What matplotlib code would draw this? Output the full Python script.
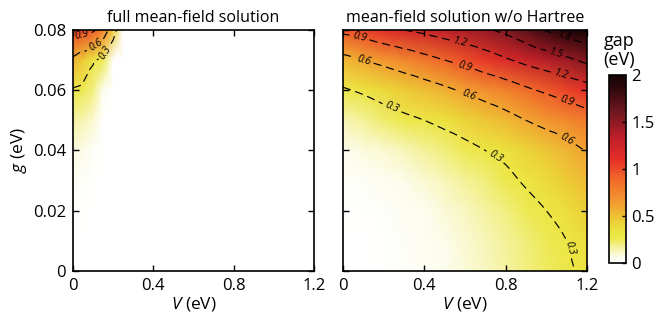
import numpy as np
import matplotlib.pyplot as plt
import matplotlib.tri as mtri
from matplotlib.colors import LinearSegmentedColormap

plt.rcParams['font.family'] = ['Open Sans', 'DejaVu Sans']
plt.rcParams['mathtext.fontset'] = 'custom'
plt.rcParams['mathtext.it'] = 'Open Sans:italic'
plt.rcParams['mathtext.rm'] = 'Open Sans'

# coupling g (rows) and interaction V (columns), gap in eV
g_vals = [0.0, 0.01, 0.02, 0.03, 0.04, 0.05, 0.06, 0.07, 0.08]

V_right = [0.0, 0.1, 0.2, 0.3, 0.4, 0.5, 0.6, 0.7, 0.8, 0.9, 1.0, 1.1, 1.2]
gap_right = [
    [0.00, 0.00, 0.01, 0.02, 0.04, 0.06, 0.09, 0.12, 0.16, 0.20, 0.24, 0.28, 0.33],
    [0.00, 0.005, 0.01, 0.03, 0.05, 0.07, 0.10, 0.13, 0.17, 0.21, 0.25, 0.30, 0.36],
    [0.01, 0.01, 0.02, 0.04, 0.06, 0.09, 0.12, 0.16, 0.20, 0.25, 0.30, 0.36, 0.43],
    [0.02, 0.03, 0.05, 0.07, 0.10, 0.13, 0.17, 0.21, 0.26, 0.32, 0.38, 0.45, 0.52],
    [0.06, 0.08, 0.10, 0.13, 0.17, 0.21, 0.25, 0.30, 0.35, 0.41, 0.47, 0.54, 0.61],
    [0.14, 0.17, 0.22, 0.26, 0.30, 0.35, 0.41, 0.47, 0.53, 0.60, 0.67, 0.73, 0.80],
    [0.28, 0.33, 0.39, 0.45, 0.50, 0.56, 0.63, 0.70, 0.77, 0.86, 0.94, 1.02, 1.10],
    [0.53, 0.60, 0.67, 0.74, 0.82, 0.90, 0.98, 1.07, 1.17, 1.27, 1.36, 1.45, 1.56],
    [0.96, 1.02, 1.11, 1.20, 1.26, 1.33, 1.40, 1.47, 1.56, 1.68, 1.82, 1.93, 2.02],
]

V_left = [0.0, 0.05, 0.1, 0.15, 0.2, 0.25, 1.2]
gap_left = [
    [0.00, 0.00, 0.00, 0.00, 0.00, 0.00, 0.0],
    [0.00, 0.00, 0.00, 0.00, 0.00, 0.00, 0.0],
    [0.01, 0.01, 0.00, 0.00, 0.00, 0.00, 0.0],
    [0.03, 0.03, 0.01, 0.00, 0.00, 0.00, 0.0],
    [0.08, 0.07, 0.03, 0.00, 0.00, 0.00, 0.0],
    [0.16, 0.14, 0.10, 0.00, 0.00, 0.00, 0.0],
    [0.28, 0.25, 0.20, 0.04, 0.00, 0.00, 0.0],
    [0.55, 0.45, 0.32, 0.25, 0.00, 0.00, 0.0],
    [1.02, 1.00, 0.94, 0.76, 0.45, 0.00, 0.0],
]

levels = [0.3, 0.6, 0.9, 1.2, 1.5, 1.8]

cmap = LinearSegmentedColormap.from_list('gap', [
    (0.00, (1.00, 1.00, 1.00)),
    (0.03, (0.99, 0.99, 0.93)),
    (0.08, (0.96, 0.95, 0.62)),
    (0.13, (0.93, 0.91, 0.30)),
    (0.17, (0.92, 0.89, 0.24)),
    (0.24, (0.93, 0.77, 0.21)),
    (0.32, (0.95, 0.61, 0.19)),
    (0.45, (0.94, 0.40, 0.16)),
    (0.55, (0.90, 0.18, 0.16)),
    (0.67, (0.74, 0.12, 0.16)),
    (0.80, (0.45, 0.09, 0.12)),
    (0.93, (0.18, 0.03, 0.05)),
    (1.00, (0.08, 0.01, 0.02)),
])

fig = plt.figure(figsize=(6.58, 3.21), dpi=100)
ax1 = fig.add_axes([0.111, 0.156, 0.366, 0.751])
ax2 = fig.add_axes([0.521, 0.156, 0.371, 0.751])
cax = fig.add_axes([0.926, 0.181, 0.025, 0.586])

panels = [
    (ax1, V_left, gap_left, 'full mean-field solution',
     [(0.045, 0.0778), (0.11, 0.0755), (0.15, 0.073)]),
    (ax2, V_right, gap_right, 'mean-field solution w/o Hartree',
     [(0.08, 0.077), (0.10, 0.0694), (0.25, 0.0555), (0.75, 0.038), (1.14, 0.008),
      (0.57, 0.0744), (0.60, 0.0677), (0.62, 0.0585), (1.08, 0.076), (1.05, 0.0724),
      (1.07, 0.065), (1.10, 0.0565), (1.10, 0.0435)]),
]

for ax, V, gap, title, label_pos in panels:
    VV, GG = np.meshgrid(V, g_vals)
    Z = np.array(gap)
    mesh = ax.pcolormesh(VV, GG, Z, cmap=cmap, vmin=0, vmax=2, shading='gouraud')
    # smooth the contour lines with matplotlib's triangulation refiner
    tri = mtri.Triangulation(VV.ravel() / 1.2, GG.ravel() / 0.08)
    refiner = mtri.UniformTriRefiner(tri)
    interp = mtri.LinearTriInterpolator(tri, Z.ravel()) if ax is ax1 else \
        mtri.CubicTriInterpolator(tri, Z.ravel(), kind='geom')
    tri_f, z_f = refiner.refine_field(Z.ravel(), triinterpolator=interp, subdiv=3)
    tri_f = mtri.Triangulation(tri_f.x * 1.2, tri_f.y * 0.08, tri_f.triangles)
    cs = ax.tricontour(tri_f, z_f, levels=levels, colors='black', linewidths=0.85,
                       linestyles=[(0, (7, 4))])
    ax.clabel(cs, fmt='%g', fontsize=7.5, inline=True, inline_spacing=3,
              manual=label_pos)
    for t in cs.labelTexts:
        t.set_fontstyle('italic')
    ax.set_xlim(0, 1.2)
    ax.set_ylim(0, 0.08)
    ax.set_xticks([0, 0.4, 0.8, 1.2])
    ax.set_xticklabels(['0', '0.4', '0.8', '1.2'])
    ax.set_yticks([0, 0.02, 0.04, 0.06, 0.08])
    ax.tick_params(direction='in', top=True, right=True, length=4, width=1,
                   labelsize=12, pad=5)
    for s in ax.spines.values():
        s.set_linewidth(1.2)
    ax.set_xlabel(r'$V$ (eV)', fontsize=12.5, labelpad=1)
    ax.set_title(title, fontsize=11.5, pad=6)

ax1.set_yticklabels(['0', '0.02', '0.04', '0.06', '0.08'])
ax1.set_ylabel(r'$g$ (eV)', fontsize=12.5, labelpad=3)
ax2.set_yticklabels([])

cb = fig.colorbar(mesh, cax=cax)
cb.set_ticks([0, 0.5, 1, 1.5, 2])
cb.set_ticklabels(['0', '0.5', '1', '1.5', '2'])
cb.ax.tick_params(direction='in', length=3, width=1, labelsize=12, pad=4)
cb.outline.set_linewidth(1.2)
fig.text(0.941, 0.785, 'gap\n(eV)', ha='center', va='bottom', fontsize=13,
         linespacing=1.05)

fig.savefig('out.png', dpi=100)
